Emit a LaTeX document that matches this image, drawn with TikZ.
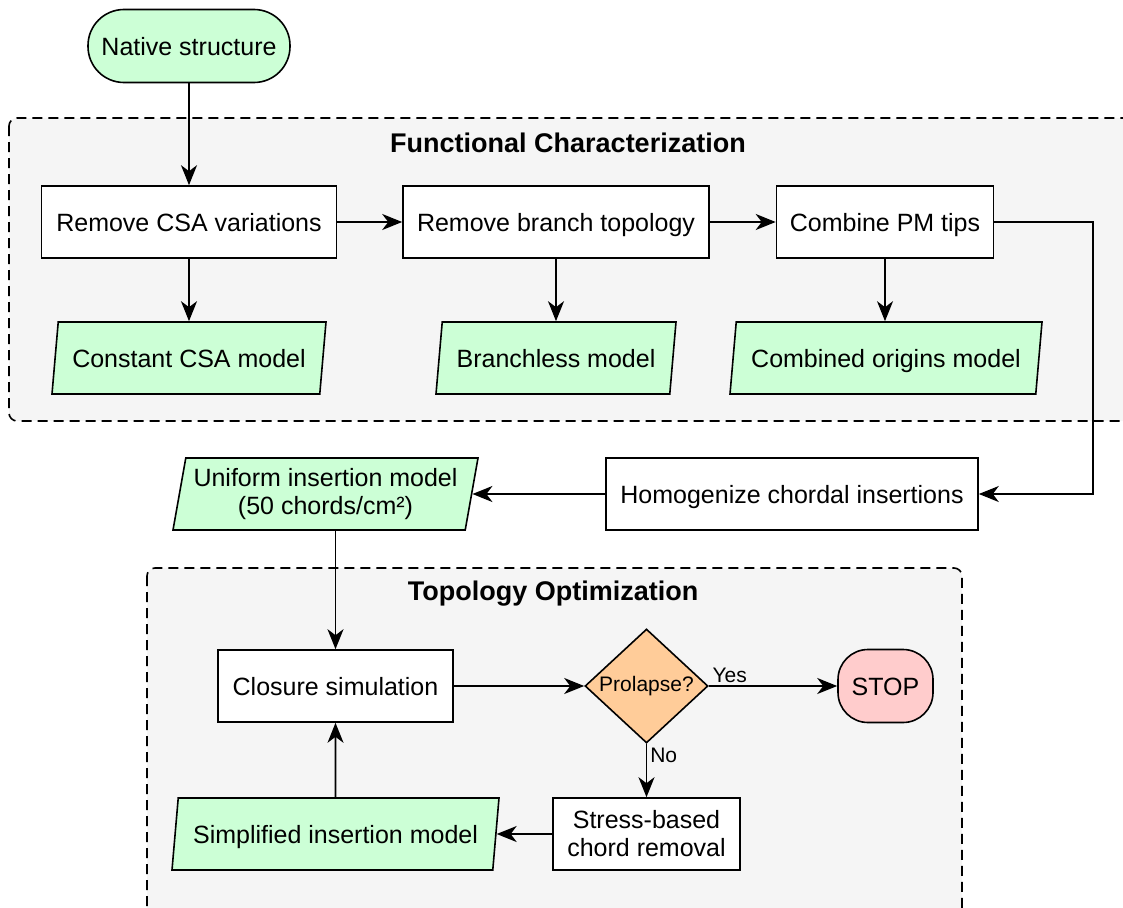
\documentclass[tikz,border=0pt]{standalone}
\usepackage{fontspec}
\setmainfont{Liberation Sans}
\usetikzlibrary{arrows.meta}
\usetikzlibrary{shapes}
\usetikzlibrary{calc}

\definecolor{mint}{HTML}{CCFFD6}
\definecolor{peach}{HTML}{FFCC99}
\definecolor{rose}{HTML}{FFCCCC}
\definecolor{panel}{HTML}{F5F5F5}

\begin{document}
\begin{tikzpicture}[x=1pt, y=-1pt, line width=1.6pt, font=\fontsize{25}{28}\selectfont,
		base/.style={draw, inner sep=0pt, minimum height=72pt},
		proc/.style={base, rectangle, fill=white},
		data/.style={base, trapezium, trapezium left angle=76, trapezium right angle=104, trapezium stretches body, fill=mint},
		oneline/.style={text height=22pt, text depth=3pt},
		group/.style={draw, fill=panel, dash pattern=on 10pt off 6pt, rounded corners=8pt, line width=1.6pt},
		grouptitle/.style={anchor=base, font=\fontsize{27}{30}\selectfont\bfseries},
		arr/.style={-{Stealth[length=20pt, width=16pt, inset=6pt]}},
		lbl/.style={font=\fontsize{21}{24}\selectfont, inner sep=3pt}]
		\useasboundingbox (0,0) rectangle (1123,907);
		\clip (0,0) rectangle (1123,907);

		% dashed panels
		\draw[group] (9,118) rectangle (1140,421);
		\draw[group] (147,568) rectangle (962,930);
		\node[grouptitle] (fct) at (568,152) {Functional Characterization};
		\node[grouptitle] (tpo) at (553,600) {Topology Optimization};

		\node[base, oneline, fill=mint, rounded corners=36pt, minimum width=202pt, minimum height=73pt] (nat) at (189,46) {Native structure};

		% functional characterization
		\node[proc, oneline, minimum width=295pt] (rcsa) at (189,222) {Remove CSA variations};
		\node[proc, oneline, minimum width=306pt] (rbr) at (556,222) {Remove branch topology};
		\node[proc, oneline, minimum width=217pt] (cpm) at (885,222) {Combine PM tips};
		\node[data, oneline, minimum width=274pt] (ccsa) at (189,358) {Constant CSA model};
		\node[data, oneline, minimum width=240pt] (bl) at (556,358) {Branchless model};
		\node[data, oneline, minimum width=312pt] (co) at (886,358) {Combined origins model};

		\node[proc, oneline, minimum width=372pt] (hom) at (792,494) {Homogenize chordal insertions};
		\node[data, align=center, minimum width=305pt] (uni) at (325.5,494) {Uniform insertion model\\(50 chords/cm²)};
		\coordinate (turn) at (1093,222);

		% topology optimization
		\node[proc, oneline, minimum width=235pt] (clo) at (335.5,686) {Closure simulation};
		\node[draw, diamond, fill=peach, aspect=1.3, inner sep=0pt, minimum width=123pt, minimum height=114pt, font=\fontsize{21}{24}\selectfont] (pro) at (646.5,686) {Prolapse?};
		\node[base, oneline, fill=rose, rounded corners=30pt, minimum width=95pt, minimum height=73pt] (stop) at (885.5,686) {STOP};
		\node[proc, align=center, minimum width=187pt] (sbr) at (646.5,834) {Stress-based\\chord removal};
		\node[data, oneline, minimum width=327pt] (sim) at (335.5,834) {Simplified insertion model};

		\draw[arr] (nat) -- (rcsa);
		\draw[arr] (rcsa) -- (rbr);
		\draw[arr] (rbr) -- (cpm);
		\draw[arr] (rcsa) -- (ccsa);
		\draw[arr] (rbr) -- (bl);
		\draw[arr] (cpm.south) -- (cpm.south |- co.north);
		\draw[arr] (cpm.east) -- (turn) |- (hom.east);
		\draw[arr] (hom) -- (uni);
		\draw[arr] (uni.south -| clo.north) -- (clo.north);
		\draw[arr] (clo) -- (pro);
		\draw[arr] (pro) -- node[lbl, anchor=south west, pos=0] (yes) {Yes} (stop);
		\draw[arr] (pro) -- node[lbl, anchor=north west, pos=0] (no) {No} (sbr);
		\draw[arr] (sbr) -- (sim);
		\draw[arr] (sim) -- (clo);
	\end{tikzpicture}
\end{document}
